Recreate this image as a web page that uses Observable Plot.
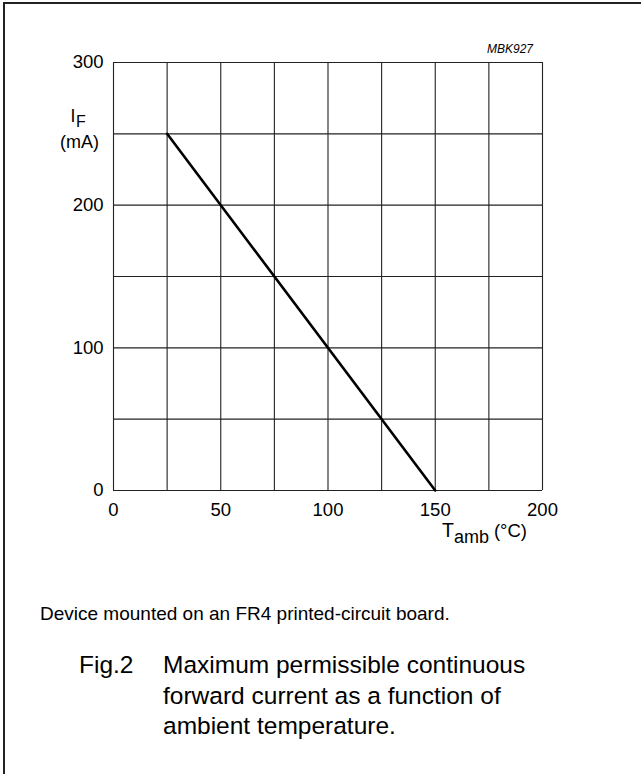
<!DOCTYPE html>
<html><head><meta charset="utf-8">
<script src="https://cdn.jsdelivr.net/npm/d3@7"></script>
<script src="https://cdn.jsdelivr.net/npm/@observablehq/plot@0.6"></script>
<style>
body{margin:0;background:#fff;}
#wrap{position:relative;width:641px;height:774px;overflow:hidden;font-family:"Liberation Sans",Arial,sans-serif;color:#000;background:#fff;}
#frameL{position:absolute;left:3px;top:2px;width:2px;height:772px;background:#222;}
#frameT{position:absolute;left:3px;top:2px;width:638px;height:2px;background:#222;}
#chart{position:absolute;left:0;top:0;}
.note{position:absolute;left:40px;top:604px;font-size:19px;line-height:19px;white-space:nowrap;}
.fig{position:absolute;left:79px;top:650px;font-size:24.5px;line-height:30.7px;white-space:nowrap;}
.figtext{position:absolute;left:163px;top:650px;font-size:24.5px;line-height:30.7px;white-space:nowrap;}
</style></head><body>
<div id="wrap">
  <div id="chart"></div>
  <div id="frameL"></div>
  <div id="frameT"></div>
  <div class="note">Device mounted on an FR4 printed-circuit board.</div>
  <div class="fig">Fig.2</div>
  <div class="figtext">Maximum permissible continuous<br>forward current as a function of<br>ambient temperature.</div>
</div>
<script>
// Data
const temperature = [25, 150];       // Tamb (°C)
const forwardCurrent = [250, 0];     // IF (mA)
const xTicks = [0, 50, 100, 150, 200];
const yTicks = [0, 100, 200, 300];
const xGrid = [0, 25, 50, 75, 100, 125, 150, 175, 200];
const yGrid = [0, 50, 100, 150, 200, 250, 300];

const points = temperature.map((t, i) => ({t, i: forwardCurrent[i]}));

const chart = Plot.plot({
  width: 641,
  height: 560,
  marginLeft: 113,
  marginRight: 99,
  marginTop: 62,
  marginBottom: 70,
  style: {fontFamily: "'Liberation Sans', Arial, sans-serif", fontSize: "18.5px", color: "#000", background: "transparent"},
  x: {domain: [0, 200]},
  y: {domain: [0, 300]},
  marks: [
    Plot.ruleX(xGrid, {stroke: "#222", strokeWidth: 1.1}),
    Plot.ruleY(yGrid, {stroke: "#222", strokeWidth: 1.1}),
    Plot.line(points, {x: "t", y: "i", stroke: "#000", strokeWidth: 2.6}),
    Plot.axisX(xTicks, {tickSize: 0, tickPadding: 12, label: null, fontSize: 18.5}),
    Plot.axisY(yTicks, {tickSize: 0, tickPadding: 10, label: null, fontSize: 18.5})
  ]
});

const svg = d3.select(chart);
const ff = "'Liberation Sans', Arial, sans-serif";
function txt(x, y, size, anchor) {
  return svg.append("text").attr("x", x).attr("y", y)
    .attr("font-size", size).attr("font-family", ff).attr("fill", "#000")
    .attr("text-anchor", anchor || "start");
}
// y-axis label I_F (mA)
const lf = txt(70.5, 122, 17.5);
lf.append("tspan").text("I");
lf.append("tspan").attr("dy", 4.5).attr("dx", 0.5).attr("font-size", 16).text("F");
txt(79.5, 148, 18, "middle").text("(mA)");
// x-axis label T_amb (°C)
const lt = txt(442, 537, 19.5);
lt.append("tspan").text("T");
lt.append("tspan").attr("dy", 6).attr("font-size", 18).text("amb");
lt.append("tspan").attr("dy", -6).attr("dx", 5).attr("font-size", 18.5).text("(°C)");
// figure code
txt(533, 53, 12, "end").attr("font-style", "italic").text("MBK927");

document.getElementById("chart").appendChild(chart);
</script>
</body></html>
